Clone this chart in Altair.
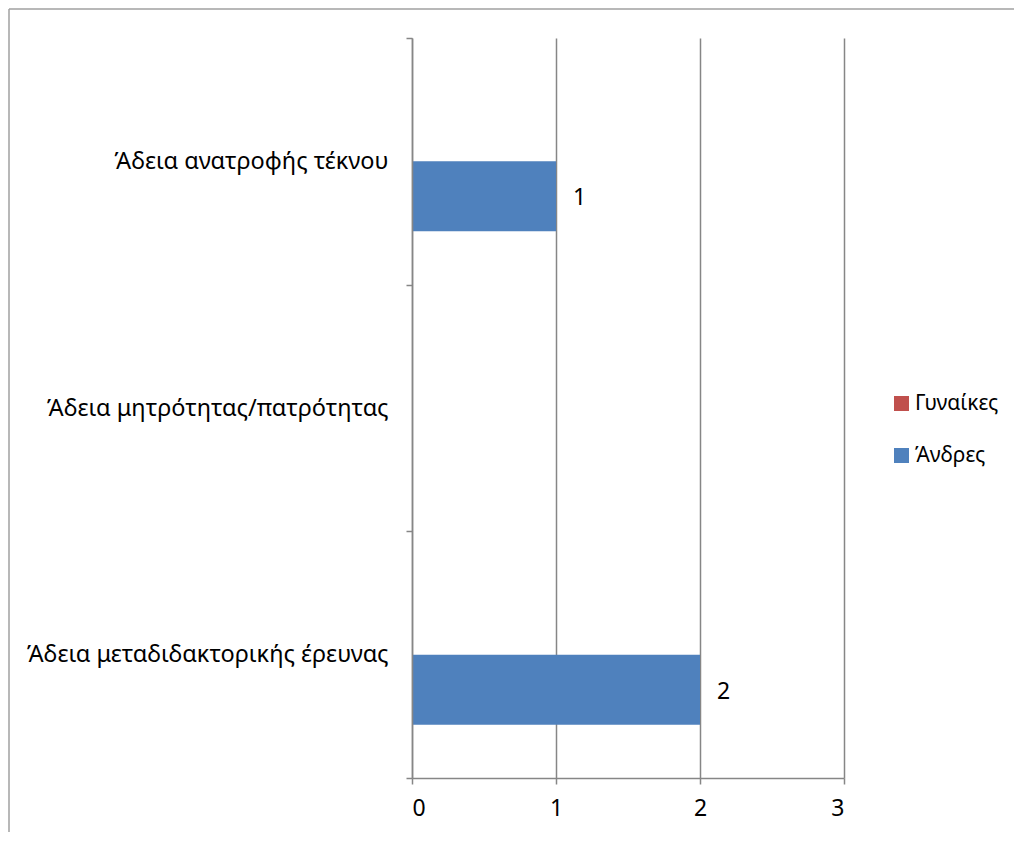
import altair as alt
import pandas as pd

categories = ["Άδεια ανατροφής τέκνου", "Άδεια μητρότητας/πατρότητας", "Άδεια μεταδιδακτορικής έρευνας"]
series = ["Γυναίκες", "Άνδρες"]
women = [0, 0, 0]
men = [1, 0, 2]
colors = ["#C0504D", "#4F81BD"]
x_ticks = [0, 1, 2, 3]

rows = []
for c, w, m in zip(categories, women, men):
    rows.append({"cat": c, "series": "Γυναίκες", "value": w})
    rows.append({"cat": c, "series": "Άνδρες", "value": m})
df = pd.DataFrame(rows)

FONT = "Noto Sans"
W, H = 432, 740

y_enc = alt.Y("cat:N", sort=categories, title=None,
              scale=alt.Scale(paddingInner=0, paddingOuter=0),
              axis=alt.Axis(tickBand="extent", tickSize=6, tickColor="#868686",
                            domainColor="#868686", domainWidth=1.5, tickWidth=1.5,
                            labelFont=FONT, labelFontSize=23.5, labelColor="#000000",
                            labelPadding=18, labelLimit=0, grid=False, zindex=1))
yoff = alt.YOffset("series:N", sort=series,
                   scale=alt.Scale(paddingInner=0, paddingOuter=0.762))
x_enc = alt.X("value:Q", title=None,
              scale=alt.Scale(domain=[0, 3], nice=False),
              axis=alt.Axis(values=x_ticks, format="d", grid=True, gridColor="#868686",
                            gridWidth=1.5, tickSize=6, tickColor="#868686", tickWidth=1.5,
                            domainColor="#868686", domainWidth=1.5,
                            labelFont=FONT, labelFontSize=23, labelColor="#000000",
                            labelPadding=13, zindex=0))

frame = pd.DataFrame({"k": [0]})
border_top = alt.Chart(frame).mark_rule(stroke="#A0A0A0", strokeWidth=1.5).encode(
    x=alt.value(-403), x2=alt.value(W + 400), y=alt.value(-29))
border_left = alt.Chart(frame).mark_rule(stroke="#A0A0A0", strokeWidth=1.5).encode(
    x=alt.value(-403), y=alt.value(-29), y2=alt.value(H + 200))

bars = alt.Chart(df).mark_bar().encode(
    y=y_enc, yOffset=yoff, x=x_enc,
    color=alt.Color("series:N", sort=series,
                    scale=alt.Scale(domain=series, range=colors),
                    legend=alt.Legend(title=None, orient="none", legendX=479, legendY=355,
                                      labelFont=FONT, labelFontSize=21, labelColor="#000000",
                                      symbolType="square", symbolSize=225, symbolStrokeWidth=0,
                                      rowPadding=30, padding=0, labelOffset=3)),
)

labels = alt.Chart(df).transform_filter(alt.datum.value > 0).mark_text(
    align="left", baseline="middle", dx=17, dy=2, font=FONT, fontSize=23, color="#000000"
).encode(y=alt.Y("cat:N", sort=categories), yOffset=alt.YOffset("series:N", sort=series),
         x="value:Q", text=alt.Text("value:Q", format="d"))

chart = alt.layer(border_top, border_left, bars, labels).properties(
    width=W, height=H,
    autosize=alt.AutoSizeParams(type="none"),
    padding={"left": 404, "top": 30, "right": 170, "bottom": 54},
).configure_view(stroke=None)

chart.save("out.html", embed_options={"renderer": "svg", "actions": False})
